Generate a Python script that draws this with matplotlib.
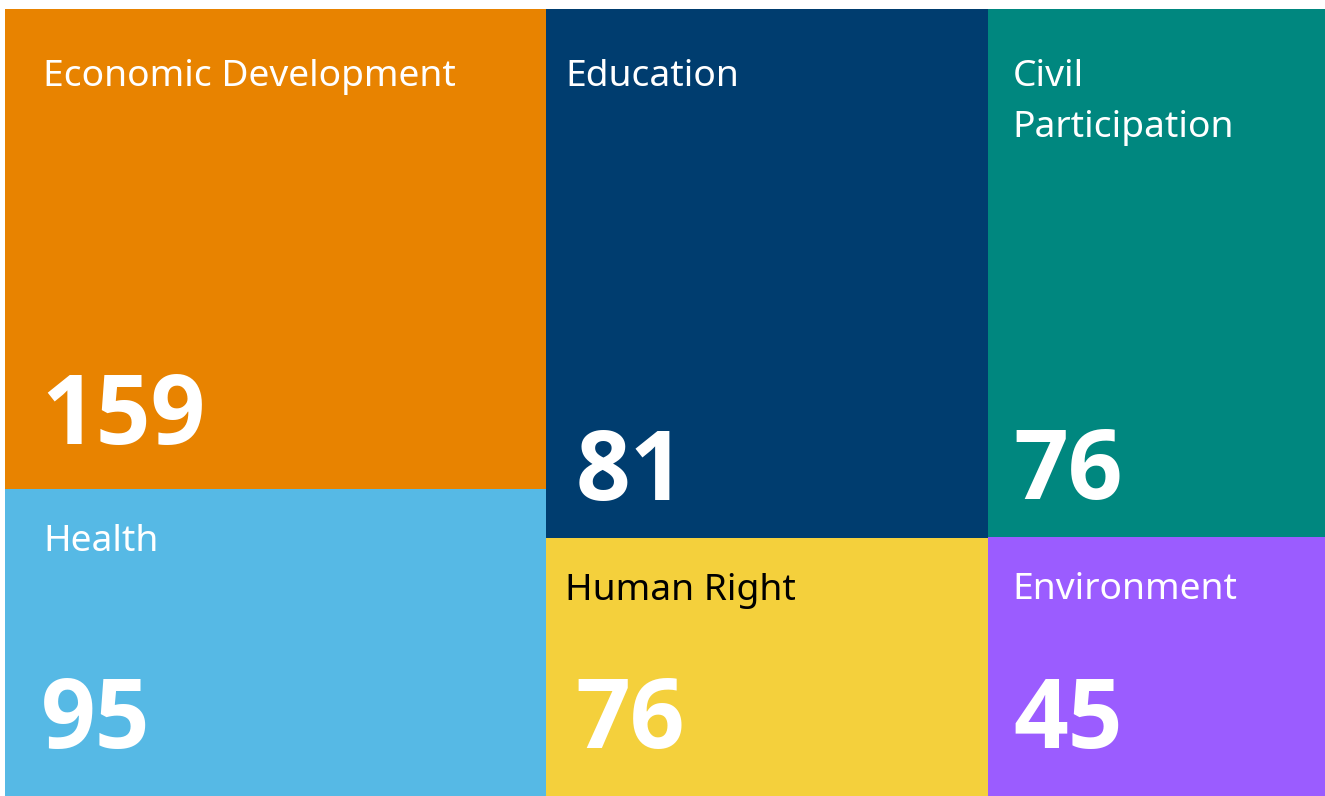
import matplotlib
matplotlib.use("Agg")
import matplotlib.pyplot as plt
from matplotlib.patches import Rectangle

# treemap data
labels = ["Economic Development", "Health", "Education", "Human Right",
          "Civil\nParticipation", "Environment"]
counts = [159, 95, 81, 76, 76, 45]
# area weights (tiles are not proportional to counts)
areas = [250, 160, 225, 110, 171, 84]
columns = [[0, 1], [2, 3], [4, 5]]
colors = ["#E88300", "#56B9E5", "#003D6F", "#F4D03C", "#00877F", "#9B5CFF"]
text_colors = ["white", "white", "white", "black", "white", "white"]

W, H = 1320, 787
# horizontal padding per column (label, number)
col_pad = [(38, 36), (19, 29), (24, 25)]

fig = plt.figure(figsize=(13.25, 7.96), dpi=100)
ax = fig.add_axes([5 / 1325, 0, 1320 / 1325, 787 / 796])
ax.set_xlim(0, W)
ax.set_ylim(H, 0)
ax.axis("off")

total = sum(areas)
x = 0
for c, col in enumerate(columns):
    col_sum = sum(areas[i] for i in col)
    w = W * col_sum / total
    y = 0
    for i in col:
        h = H * areas[i] / col_sum
        ax.add_patch(Rectangle((x, y), w, h, facecolor=colors[i], edgecolor="none"))
        lab_pad = 77 if y == 0 else 62
        lines = labels[i].split("\n")
        for k, line in enumerate(lines):
            ax.text(x + col_pad[c][0], y + lab_pad + 51 * k, line,
                    color=text_colors[i], fontsize=26.8, family="Noto Sans",
                    va="baseline", ha="left")
        num_pad = 48 if y + h > H - 1 else (45 if c == 0 else 38)
        ax.text(x + col_pad[c][1], y + h - num_pad, str(counts[i]), color="white",
                fontsize=69, family="Open Sans", fontweight="bold",
                va="baseline", ha="left")
        y += h
    x += w

fig.savefig("out.png", dpi=100)
